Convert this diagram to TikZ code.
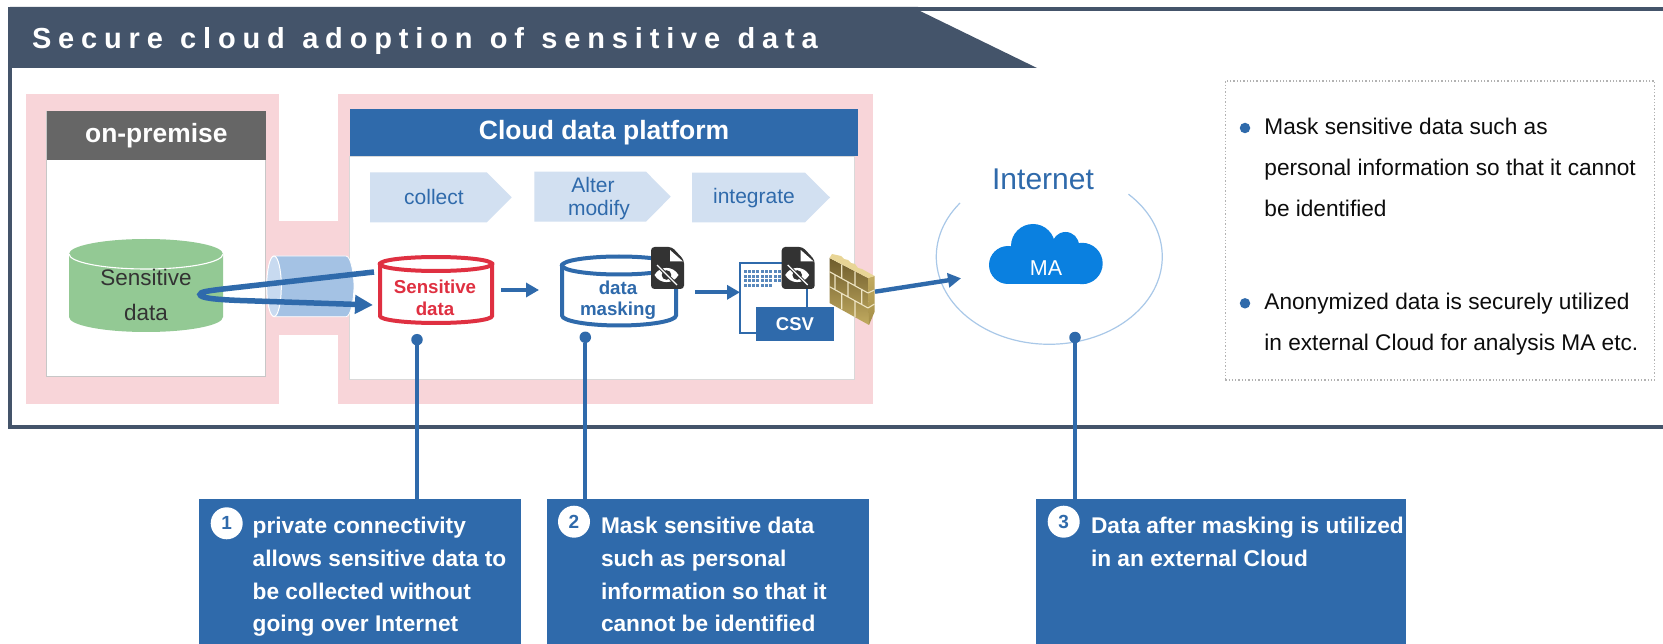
\documentclass[tikz,border=0pt]{standalone}
\usepackage{fontspec}
\setmainfont{Liberation Sans}
\usetikzlibrary{arrows.meta,calc}
\definecolor{navy}{HTML}{44546A}
\definecolor{mblue}{HTML}{2F6AAB}
\definecolor{pinkbg}{HTML}{F8D5D9}
\definecolor{chev}{HTML}{D2E0F1}
\definecolor{cgreen}{HTML}{93C994}
\definecolor{cred}{HTML}{DF3041}
\definecolor{pipe}{HTML}{A4C2E4}
\definecolor{pipel}{HTML}{C8DAF0}
\definecolor{ccloud}{HTML}{0A80E0}
\definecolor{darkicon}{HTML}{333333}
\definecolor{ringc}{HTML}{A9C8E8}
\definecolor{brickd}{HTML}{6E5C2C}
\definecolor{brickl}{HTML}{C2AB60}
\definecolor{bricktop}{HTML}{E8D596}
\definecolor{brickside}{HTML}{A48E48}
\definecolor{mortar}{HTML}{EFE5C4}
\newcommand{\fs}[1]{\fontsize{#1}{#1}\selectfont}
\newcommand{\titlefont}{\fs{29}\bfseries\addfontfeature{LetterSpace=23.6}\spaceskip=17.3pt\relax}
\tikzset{
  lbl/.style={inner sep=0pt,outer sep=0pt,align=center},
  base/.style={inner sep=0pt,outer sep=0pt,anchor=base west},
  chevt/.style={lbl,text=mblue,font=\fs{21}},
  callout/.style={fill=mblue,inner sep=0pt,outer sep=0pt,anchor=north west},
  calltext/.style={base,text=white,font=\fs{22.7}\bfseries},
  numc/.style={circle,fill=white,minimum size=32pt,inner sep=0pt,text=mblue,font=\fs{19}\bfseries},
  pindot/.style={circle,fill=mblue,minimum size=11.5pt,inner sep=0pt,outer sep=0pt},
  pinline/.style={draw=mblue,line width=4pt},
  flow/.style={draw=mblue,line width=4.4pt,-{Triangle[length=13pt,width=14pt]}},
  notet/.style={base,text=black!95,font=\fs{22.65}},
  bul/.style={circle,fill=mblue,minimum size=10.5pt,inner sep=0pt},
}
\newcommand{\eyefile}[2]{%
\begin{scope}[shift={(#1,#2)}]
 \fill[darkicon,rounded corners=3.5pt] (0,0) -- (21,0) -- (33,13) -- (33,42) -- (0,42) -- cycle;
 \fill[white] (19,3) -- (32,14.5) -- (19,14.5) -- cycle;
 \fill[white] (3.5,28) .. controls (9,18.5) and (22,18.5) .. (27.5,28) .. controls (22,37.5) and (9,37.5) .. (3.5,28) -- cycle;
 \fill[darkicon] (15.5,28) circle (4.8pt);
 \draw[darkicon,line width=3.2pt] (7,19) -- (25,37);
 \draw[white,line width=1.3pt] (6,18) -- (26,38);
\end{scope}}
\begin{document}
\begin{tikzpicture}[x=1pt,y=-1pt]
\useasboundingbox (0,0) rectangle (1663,644);
\fill[white] (0,0) rectangle (1663,644);
% frame and banner
\draw[navy,line width=3.6pt] (1663,9) -- (10,9) -- (10,427) -- (1663,427);
\fill[navy] (10,7) -- (918,7) -- (918,10) -- (1037,68) -- (10,68) -- cycle;
\node[base,text=white,font=\titlefont] (title) at (32,49) {Secure cloud adoption of sensitive data};
% pink
\fill[pinkbg] (26,94.3) rectangle (278.6,404);
\fill[pinkbg] (338,94.3) rectangle (873,404);
\fill[pinkbg] (278,220.7) rectangle (339,335);
% on-premise panel
\node[draw=black!22,line width=.7pt,fill=white,inner sep=0pt,outer sep=0pt,minimum width=219pt,minimum height=265.7pt,anchor=north west] (onprem) at (46.8,111) {};
\node[fill=black!60,inner sep=0pt,outer sep=0pt,minimum width=219pt,minimum height=49pt,anchor=north west,text=white,font=\fs{26.4}\bfseries] (onhead) at (46.8,111) {on-premise};
% cloud panel
\node[draw=black!15,line width=.7pt,fill=white,inner sep=0pt,outer sep=0pt,minimum width=504.7pt,minimum height=222.3pt,anchor=north west] (cloudp) at (349.3,156.7) {};
\node[fill=mblue,inner sep=0pt,outer sep=0pt,minimum width=508pt,minimum height=47pt,anchor=north west,text=white,font=\fs{26.5}\bfseries] (cloudh) at (350,109) {Cloud data platform};
% chevrons
\fill[chev] (370,172.3) -- (486.7,172.3) -- (511.7,197.3) -- (486.7,222.3) -- (370,222.3) -- cycle;
\node[chevt] (collect) at (434,197) {collect};
\fill[chev] (534.3,171.7) -- (646,171.7) -- (670.7,196.7) -- (646,221.7) -- (534.3,221.7) -- cycle;
\node[chevt] (alter) at (593,185) {Alter};
\node[chevt] (modify) at (599,210.5) {modify};
\fill[chev] (692,172.7) -- (805,172.7) -- (830,197.5) -- (805,222.3) -- (692,222.3) -- cycle;
\node[chevt] (integrate) at (754,198) {integrate};
% green cylinder
\fill[cgreen] (69,254) -- (69,317) arc[start angle=180,end angle=0,x radius=77,y radius=15] -- (223,254) -- cycle;
\fill[cgreen] (146,254) ellipse [x radius=77,y radius=15];
\draw[white,line width=1.1pt] (69,254) arc[start angle=180,end angle=0,x radius=77,y radius=15];
\node[lbl,text=black!80,font=\fs{22.5}] (sens1) at (146,277) {Sensitive};
\node[lbl,text=black!80,font=\fs{22.5}] (sens2) at (146,312) {data};
% pipe
\fill[pipe,draw=white,line width=.8pt] (274,256) -- (346,256) .. controls (351,256) and (354,275) .. (354,286) .. controls (354,298) and (351,316.7) .. (346,316.7) -- (274,316.7) -- cycle;
\draw[white,line width=1pt,fill=pipel] (274,286.3) ellipse [x radius=7.3,y radius=30.3];
% red cylinder
\node[inner sep=0pt,outer sep=0pt,minimum width=116pt,minimum height=70pt] (redcyl) at (436,290) {};
\draw[cred,line width=4pt,fill=white] (380,264) -- (380,316) .. controls (380,320) and (406,323) .. (436,323) .. controls (466,323) and (492,320) .. (492,316) -- (492,264) -- cycle;
\draw[cred,line width=4pt,fill=white] (380,264) .. controls (380,268) and (406,271) .. (436,271) .. controls (466,271) and (492,268) .. (492,264) .. controls (492,260) and (466,257) .. (436,257) .. controls (406,257) and (380,260) .. (380,264) -- cycle;
\node[lbl,text=cred,font=\fs{18.7}\bfseries] (red1) at (435,286.7) {Sensitive};
\node[lbl,text=cred,font=\fs{18.7}\bfseries] (red2) at (435,308.5) {data};
% blue cylinder
\node[inner sep=0pt,outer sep=0pt,minimum width=118pt,minimum height=72pt] (bluecyl) at (619,291) {};
\draw[mblue,line width=4pt,fill=white] (562,265.5) -- (562,315.5) .. controls (562,321) and (588,325.5) .. (619,325.5) .. controls (650,325.5) and (676,321) .. (676,315.5) -- (676,265.5) -- cycle;
\draw[mblue,line width=4pt,fill=white] (562,265.5) .. controls (562,270.5) and (588,274.5) .. (619,274.5) .. controls (650,274.5) and (676,270.5) .. (676,265.5) .. controls (676,260.5) and (650,256.5) .. (619,256.5) .. controls (588,256.5) and (562,260.5) .. (562,265.5) -- cycle;
\node[lbl,text=mblue,font=\fs{18.7}\bfseries] (blue1) at (618,287.7) {data};
\node[lbl,text=mblue,font=\fs{18.7}\bfseries] (blue2) at (618,310.7) {masking};
\eyefile{651}{247}
% csv document
\node[draw=mblue,line width=1.5pt,fill=white,inner sep=0pt,outer sep=0pt,minimum width=67pt,minimum height=70pt,anchor=north west] (csvdoc) at (740,263) {};
\foreach \r/\c in {271.7/9,276.2/9,280.9/9,285.7/7}{
  \foreach \i in {1,...,\c}{
    \fill[mblue!80] ({745+(\i-1)*4.3-1.5},{\r-1.5}) rectangle ++(3,3);
  }
}
\eyefile{781.7}{247}
\node[fill=mblue,inner sep=0pt,outer sep=0pt,minimum width=78pt,minimum height=34.6pt,anchor=north west,text=white,font=\fs{18.5}\bfseries] (csv) at (756,306.7) {CSV};
% firewall
\shade[top color=brickd,bottom color=brickl] (829.5,258) -- (868,278) -- (869,325) -- (829.5,303) -- cycle;
\shade[top color=brickl,bottom color=brickside] (868,278) -- (874.5,276) -- (874.5,312) -- (869,325) -- cycle;
\fill[bricktop] (829.5,258) -- (832,254) -- (841,256) -- (844,259) -- (848,260) -- (851,263) -- (855,264) -- (858,268) -- (862,269) -- (874.5,276) -- (868,278) -- cycle;
\draw[mortar,line width=1.1pt]
  (829.5,271.7) -- (868,293) (829.5,286.7) -- (868,308)
  (841.7,264.5) -- (841.7,278) (855,271.5) -- (855,285.5)
  (835,274.5) -- (835,289.5) (848,281.5) -- (848,296.5) (861.7,289) -- (861.7,304.5)
  (841.7,293) -- (841.7,309.5) (855,300.5) -- (855,317)
  (868,293) -- (874.5,290) (868,308) -- (874.5,304);
\node[inner sep=0pt,outer sep=0pt,minimum width=46pt,minimum height=72pt] (wall) at (852,289) {};
% ring and cloud
\draw[ringc,line width=1.2pt] (960,203) arc[start angle=217.8,end angle=-45.5,x radius=113,y radius=87.6];
\node[lbl,text=mblue,font=\fs{30}] (internet) at (1043,179.5) {Internet};
\fill[ccloud] (1008,265) circle (19pt) (1033,246) circle (22pt) (1065.5,245.5) circle (13.5pt) (1082,263.5) circle (20.7pt);
\fill[ccloud] (1008,258) rectangle (1082,284.3);
\fill[ccloud] (1022,245) rectangle (1070,260);
\node[lbl,text=white,font=\fs{21.5}] (ma) at (1046,268) {MA};
% flows
\node[inner sep=0pt,outer sep=0pt,minimum size=0pt] (ringw) at (961,278.3) {};
\draw[flow] (wall.east |- 0,291.7) -- (ringw);
\draw[flow] ($(redcyl.east)+(7,0)$) -- ($(bluecyl.west)+(-21,-1)$);
\draw[flow] (695,292.3) -- (csvdoc.west |- 0,292.3);
\coordinate (ustart) at (374,272);
\coordinate (uend) at (373,305);
\draw[mblue,line width=5.5pt,-{Triangle[length=18pt,width=18pt]}] (ustart) -- (225,288.8) .. controls (206,291) and (200,292) .. (200,294.5) .. controls (200,298) and (215,299.5) .. (240,300.5) -- (uend);
% notes box
\node[draw=black!30,dotted,line width=1.3pt,inner sep=0pt,minimum width=429.4pt,minimum height=299pt,anchor=north west] (notes) at (1224.6,80.3) {};
\node[bul] (b1) at (1245,128) {};
\node[bul] (b2) at (1245,303.3) {};
\node[notet] (n1) at (1264.4,135) {Mask sensitive data such as};
\node[notet] (n2) at (1264.4,175.7) {personal information so that it cannot};
\node[notet] (n3) at (1264.4,216.7) {be identified};
\node[notet] (n4) at (1264.4,310) {Anonymized data is securely utilized};
\node[notet] (n5) at (1264.4,350.7) {in external Cloud for analysis MA etc.};
% callouts
\node[callout,minimum width=322pt,minimum height=145pt] (c1) at (199,499) {};
\node[callout,minimum width=322pt,minimum height=145pt] (c2) at (547,499) {};
\node[callout,minimum width=370pt,minimum height=145pt] (c3) at (1036,499) {};
\node[numc] (k1) at (226.7,523.3) {1};
\node[numc] (k2) at (574,521.7) {2};
\node[numc] (k3) at (1063.7,521.7) {3};
\node[calltext] (t11) at (252.7,533.3) {private connectivity};
\node[calltext] (t12) at (252.7,566.5) {allows sensitive data to};
\node[calltext] (t13) at (252.7,599) {be collected without};
\node[calltext] (t14) at (252.7,631.7) {going over Internet};
\node[calltext] (t21) at (601,533.3) {Mask sensitive data};
\node[calltext] (t22) at (601,566.5) {such as personal};
\node[calltext] (t23) at (601,599) {information so that it};
\node[calltext] (t24) at (601,631.7) {cannot be identified};
\node[calltext] (t31) at (1091,533.3) {Data after masking is utilized};
\node[calltext] (t32) at (1091,566.5) {in an external Cloud};
% pins
\node[pindot] (p1) at (417,339.7) {};
\node[pindot] (p2) at (585.3,337.3) {};
\node[pindot] (p3) at (1075,337.5) {};
\draw[pinline] (p1) -- (p1 |- c1.north);
\draw[pinline] (p2) -- (p2 |- c2.north);
\draw[pinline] (p3) -- (p3 |- c3.north);
\end{tikzpicture}
\end{document}
